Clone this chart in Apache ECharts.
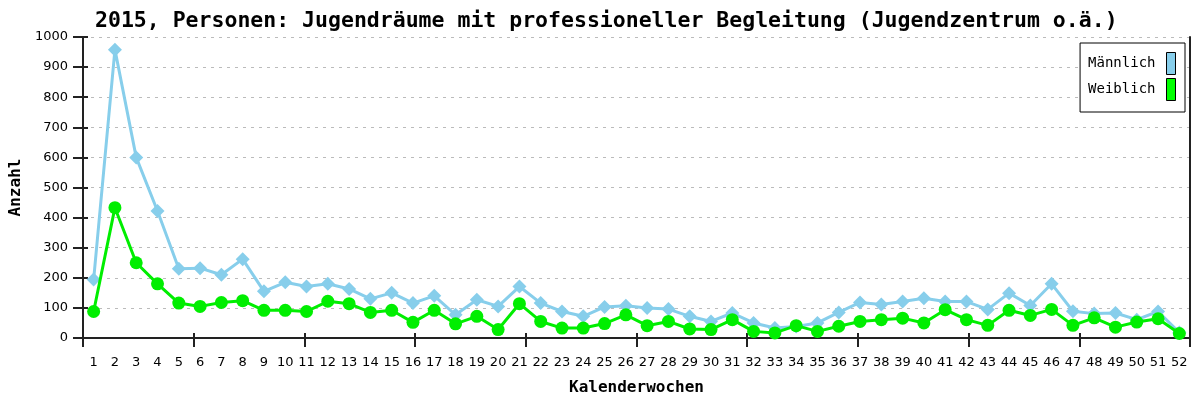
<!DOCTYPE html>
<html>
<head>
<meta charset="utf-8">
<script src="https://cdn.jsdelivr.net/npm/echarts@6/dist/echarts.min.js"></script>
<style>
  html, body { margin: 0; padding: 0; background: #fff; }
  #chart { width: 1194px; height: 401px; }
</style>
</head>
<body>
<div id="chart"></div>
<script>
// Kalenderwochen 1..52
const weeks = Array.from({ length: 52 }, (_, i) => String(i + 1));

// Anzahl Besucher pro Woche
const maennlich = [194, 958, 600, 422, 230, 232, 210, 262, 155, 185,
  171, 180, 163, 130, 150, 116, 140, 77, 127, 105,
  171, 116, 88, 72, 103, 107, 100, 96, 72, 55,
  83, 50, 33, 38, 50, 85, 118, 111, 121, 132,
  121, 121, 95, 149, 108, 180, 89, 81, 83, 61,
  88, 18];

const weiblich = [88, 433, 250, 180, 116, 105, 118, 124, 92, 92,
  88, 122, 114, 85, 92, 52, 92, 47, 72, 28,
  114, 55, 33, 33, 48, 77, 41, 55, 30, 28,
  61, 22, 17, 41, 22, 39, 55, 61, 66, 50,
  94, 61, 42, 92, 75, 95, 42, 67, 36, 53,
  64, 15];

const yTicks = { min: 0, max: 1000, step: 100 };

const mono = 'DejaVu Sans Mono';
const sans = 'DejaVu Sans';

const chart = echarts.init(document.getElementById('chart'), null, { renderer: 'canvas' });

// extra axes that only draw tick marks (the bottom ticks split the axis into 10 parts)
const tickOnly = (extra) => Object.assign({
  type: 'value',
  min: 0, max: 10, interval: 1,
  position: 'bottom',
  axisLine: { show: false },
  axisLabel: { show: false },
  splitLine: { show: false },
  silent: true
}, extra);

chart.setOption({
  animation: false,
  backgroundColor: '#fff',
  title: {
    text: '2015, Personen: Jugendräume mit professioneller Begleitung (Jugendzentrum o.ä.)',
    left: 90,
    top: 5,
    textStyle: { fontFamily: mono, fontWeight: 'bold', fontSize: 21.5, color: '#000' }
  },
  legend: {
    orient: 'vertical',
    right: 9,
    top: 43,
    align: 'right',
    padding: [9, 9, 11, 8],
    itemGap: 3,
    itemWidth: 9,
    itemHeight: 22,
    icon: 'rect',
    borderColor: '#000',
    borderWidth: 1,
    backgroundColor: '#fff',
    textStyle: { fontFamily: mono, fontSize: 14, color: '#000', padding: [0, 6, 0, 0] },
    data: [
      { name: 'Männlich', itemStyle: { color: '#87ceeb', borderColor: '#000', borderWidth: 1 } },
      { name: 'Weiblich', itemStyle: { color: '#00ff00', borderColor: '#000', borderWidth: 1 } }
    ]
  },
  grid: { left: 83, right: 4, top: 37, bottom: 63, containLabel: false, outerBoundsMode: 'none' },
  xAxis: [
    {
      type: 'category',
      data: weeks,
      boundaryGap: true,
      position: 'bottom',
      name: 'Kalenderwochen',
      nameLocation: 'middle',
      nameGap: 42,
      nameTextStyle: { fontFamily: mono, fontWeight: 'bold', fontSize: 16, color: '#000' },
      axisLine: { lineStyle: { color: '#222', width: 2 } },
      axisTick: { show: false },
      axisLabel: { interval: 0, margin: 18, fontFamily: sans, fontSize: 13, color: '#000' },
      splitLine: { show: false }
    },
    tickOnly({ axisTick: { show: true, inside: false, length: 9, lineStyle: { color: '#222', width: 2 } } }),
    tickOnly({ axisTick: { show: true, inside: true, length: 5, lineStyle: { color: '#222', width: 2 } } })
  ],
  yAxis: [
    {
      type: 'value',
      min: yTicks.min, max: yTicks.max, interval: yTicks.step,
      position: 'left',
      name: 'Anzahl',
      nameLocation: 'middle',
      nameGap: 59,
      nameMoveOverlap: false,
      nameTextStyle: { fontFamily: mono, fontWeight: 'bold', fontSize: 16, color: '#000' },
      axisLine: { show: true, lineStyle: { color: '#222', width: 2 } },
      axisTick: { show: true, inside: false, length: 10, lineStyle: { color: '#222', width: 2 } },
      axisLabel: { margin: 15, fontFamily: sans, fontSize: 13, color: '#000', formatter: (v) => String(v) },
      splitLine: { show: true, lineStyle: { color: '#bbb', type: [3, 5], width: 1 } }
    },
    {
      type: 'value',
      min: yTicks.min, max: yTicks.max, interval: yTicks.step,
      position: 'left',
      axisLine: { show: false },
      axisTick: { show: true, inside: true, length: 5, lineStyle: { color: '#222', width: 2 } },
      axisLabel: { show: false },
      splitLine: { show: false }
    },
    {
      type: 'value',
      min: yTicks.min, max: yTicks.max, interval: yTicks.step,
      position: 'right',
      axisLine: { show: true, onZero: false, lineStyle: { color: '#222', width: 2 } },
      axisTick: { show: false },
      axisLabel: { show: false },
      splitLine: { show: false }
    }
  ],
  series: [
    {
      name: 'Männlich',
      type: 'line',
      data: maennlich,
      xAxisIndex: 0,
      yAxisIndex: 0,
      symbol: 'diamond',
      symbolSize: 14,
      lineStyle: { color: '#87ceeb', width: 3 },
      itemStyle: { color: '#87ceeb' },
      z: 2
    },
    {
      name: 'Weiblich',
      type: 'line',
      data: weiblich,
      xAxisIndex: 0,
      yAxisIndex: 0,
      symbol: 'circle',
      symbolSize: 13,
      lineStyle: { color: '#00ee00', width: 3 },
      itemStyle: { color: '#00ee00' },
      z: 3
    }
  ]
});
</script>
</body>
</html>
